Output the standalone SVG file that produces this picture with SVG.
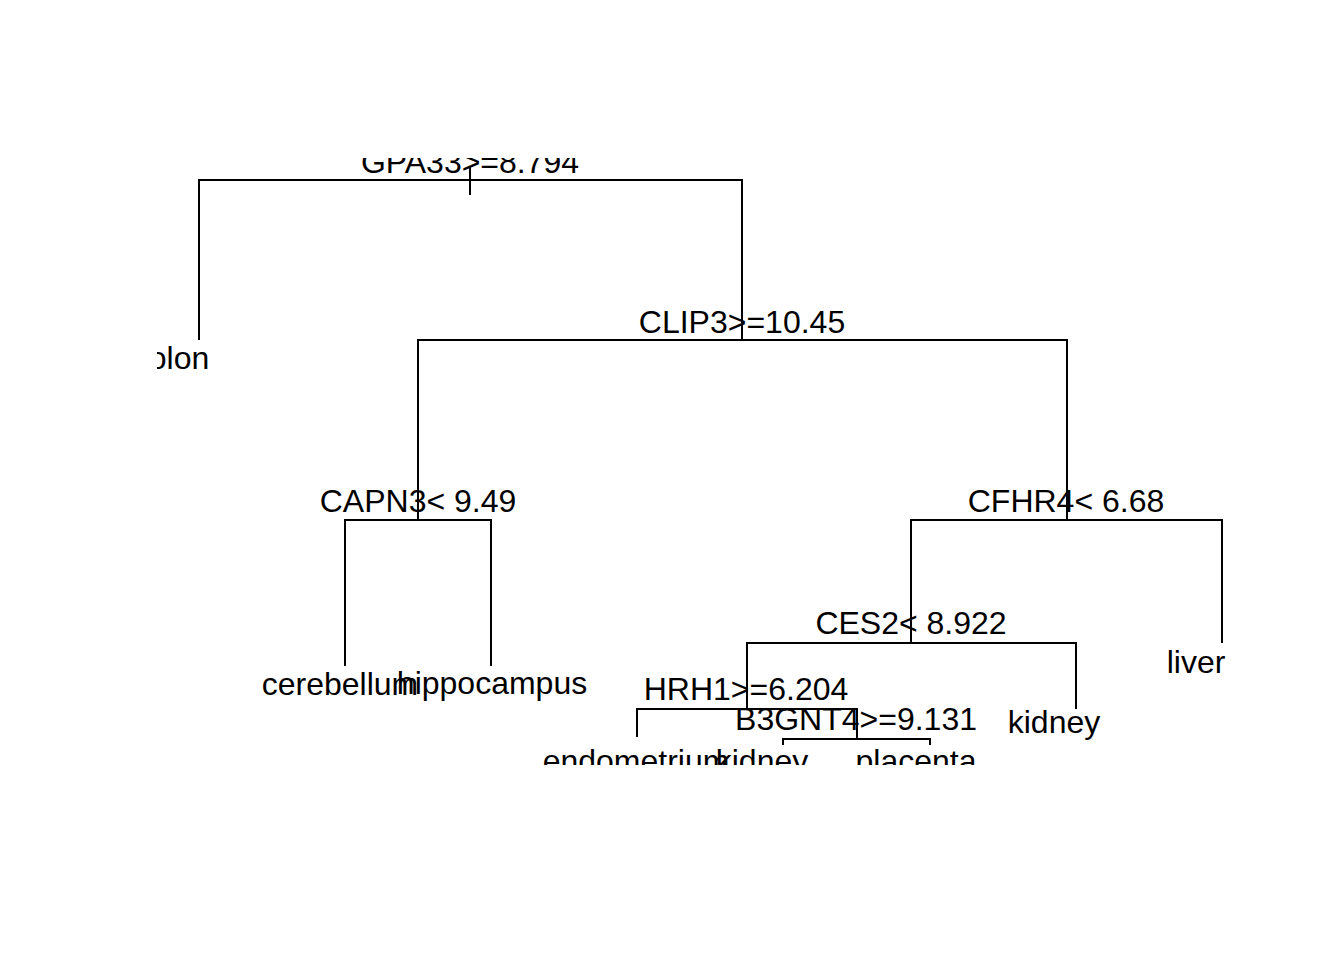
<svg xmlns="http://www.w3.org/2000/svg" width="1344" height="960" viewBox="0 0 1344 960">
<style>
.e{stroke:#000;stroke-width:2;fill:none;stroke-linecap:butt}
text{font-family:"Liberation Sans",Arial,sans-serif;font-size:32px;fill:#000;text-anchor:middle}
</style>
<defs><clipPath id="pr"><rect x="157" y="158" width="1130" height="607"/></clipPath></defs>
<rect width="1344" height="960" fill="#fff"/>
<g clip-path="url(#pr)">
<g id="connectors" class="e">
<path d="M470 166V195"/>
<path d="M199 340V180H742V340"/>
<path d="M418 520V340H1067V520"/>
<path d="M345 666V520H491V666"/>
<path d="M911 643V520H1222V643"/>
<path d="M747 709V643H1076V709"/>
<path d="M637 737V709H857V739"/>
<path d="M783 745V739H930V745"/>
</g>
<g id="n1"><text x="470" y="173">GPA33&gt;=8.794</text></g>
<g id="n2"><text x="171" y="369">colon</text></g>
<g id="n3"><text x="742" y="333">CLIP3&gt;=10.45</text></g>
<g id="n6"><text x="418" y="512">CAPN3&lt; 9.49</text></g>
<g id="n12"><text x="340" y="695">cerebellum</text></g>
<g id="n13"><text x="492" y="694">hippocampus</text></g>
<g id="n7"><text x="1066" y="512">CFHR4&lt; 6.68</text></g>
<g id="n14"><text x="911" y="634">CES2&lt; 8.922</text></g>
<g id="n15"><text x="1196" y="673">liver</text></g>
<g id="n28"><text x="746" y="700">HRH1&gt;=6.204</text></g>
<g id="n29"><text x="1054" y="733">kidney</text></g>
<g id="n56"><text x="636" y="772">endometrium</text></g>
<g id="n57"><text x="856" y="730">B3GNT4&gt;=9.131</text></g>
<g id="n114"><text x="762" y="772">kidney</text></g>
<g id="n115"><text x="916" y="772">placenta</text></g>
</g>
</svg>
